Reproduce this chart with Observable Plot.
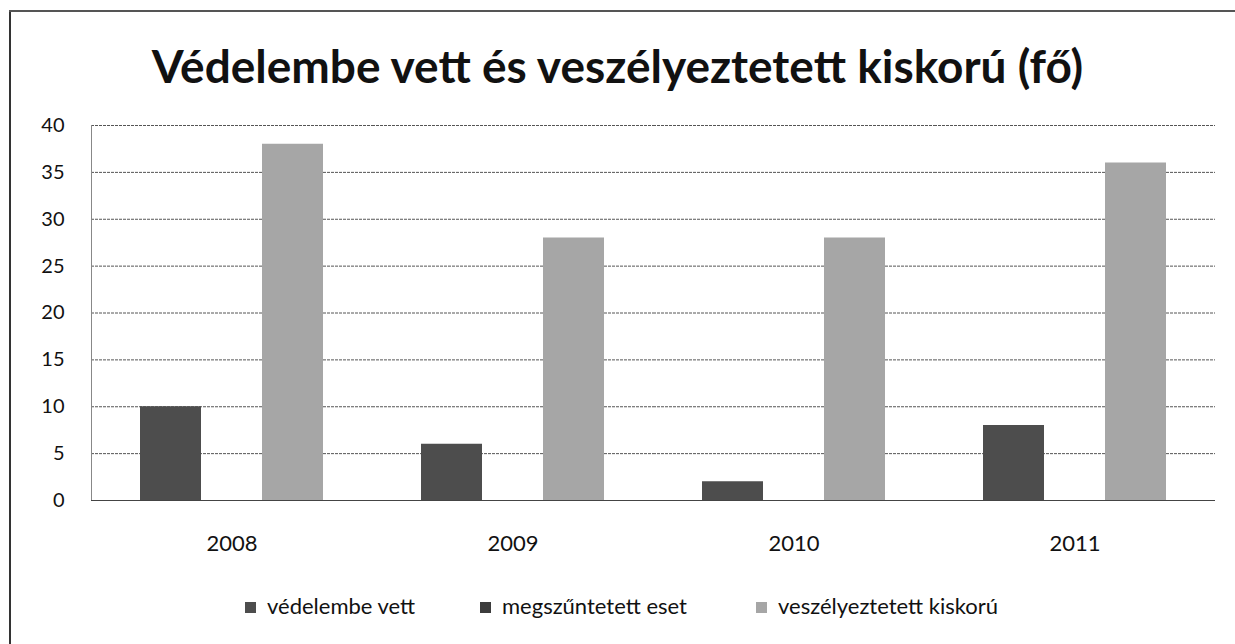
<!DOCTYPE html>
<html><head><meta charset="utf-8">
<script src="https://cdn.jsdelivr.net/npm/d3@7"></script>
<script src="https://cdn.jsdelivr.net/npm/@observablehq/plot@0.6"></script>
<style>
html,body{margin:0;padding:0;background:#fff;overflow:hidden;}
#wrap{position:relative;width:1235px;height:644px;overflow:hidden;font-family:Lato,"Open Sans",sans-serif;}
#lineL{position:absolute;left:9px;top:10px;width:2px;height:634px;background:#333;}
#lineT{position:absolute;left:9px;top:10px;width:1226px;height:2px;background:#555;}
#title{position:absolute;left:0;top:38px;width:1235px;text-align:center;font-weight:700;font-size:46px;line-height:56px;color:#111;white-space:nowrap;}
#chart{position:absolute;left:0;top:110px;}
.item{position:absolute;top:592px;font-size:22px;line-height:28px;color:#111;white-space:nowrap;}
.item span.sw{display:inline-block;width:11px;height:11px;margin-right:11px;vertical-align:1px;}
</style></head>
<body><div id="wrap"><div id="lineL"></div><div id="lineT"></div><div id="title">Védelembe vett és veszélyeztetett kiskorú (fő)</div><div id="chart"></div></div>
<script>
const years = ["2008","2009","2010","2011"];
const seriesNames = ["védelembe vett","megszűntetett eset","veszélyeztetett kiskorú"];
const vedelembeVett = [10,6,2,8];
const megszuntetettEset = [0,0,0,0];
const veszelyeztetettKiskoru = [38,28,28,36];
const yTicks = [0,5,10,15,20,25,30,35,40];
const colors = ["#4d4d4d","#3c3c3c","#a6a6a6"];

const seriesValues = [vedelembeVett, megszuntetettEset, veszelyeztetettKiskoru];
const data = [];
years.forEach((yr,i)=>seriesNames.forEach((s,j)=>data.push({year:yr, series:s, value:seriesValues[j][i]})));

const chart = Plot.plot({
  width:1235, height:460,
  marginLeft:90, marginRight:20, marginTop:15, marginBottom:70,
  style:{fontFamily:"Lato, 'Open Sans', sans-serif", fontSize:"20px", color:"#111", background:"transparent", overflow:"visible"},
  fx:{domain:years, padding:0, label:null},
  x:{domain:seriesNames, paddingInner:0, paddingOuter:0.8, axis:null},
  y:{domain:[0,40], ticks:yTicks, label:null},
  color:{domain:seriesNames, range:colors},
  marks:[
    Plot.ruleY(yTicks.filter(d=>d>0), {stroke:"#555", strokeWidth:1, strokeDasharray:"3,1"}),
    Plot.frame({anchor:"left", stroke:"#888", strokeDasharray:"2,1", facetAnchor:"left"}),
    Plot.barY(data, {fx:"year", x:"series", y:"value", fill:"series"}),
    Plot.ruleY([0], {stroke:"#444", strokeWidth:1}),
    Plot.axisY({ticks:yTicks, tickSize:0, tickPadding:27, fontSize:20}),
    Plot.axisFx({anchor:"bottom", tickSize:0, tickPadding:35, fontSize:22, label:null})
  ]
});
document.getElementById("chart").appendChild(chart);

const wrap = document.getElementById("wrap");
const legendLefts = [245, 480, 756];
seriesNames.forEach((s,j)=>{
  const d=document.createElement("div");
  d.className="item";
  d.style.left=legendLefts[j]+"px";
  d.innerHTML=`<span class="sw" style="background:${colors[j]}"></span>${s}`;
  wrap.appendChild(d);
});
</script></body></html>
